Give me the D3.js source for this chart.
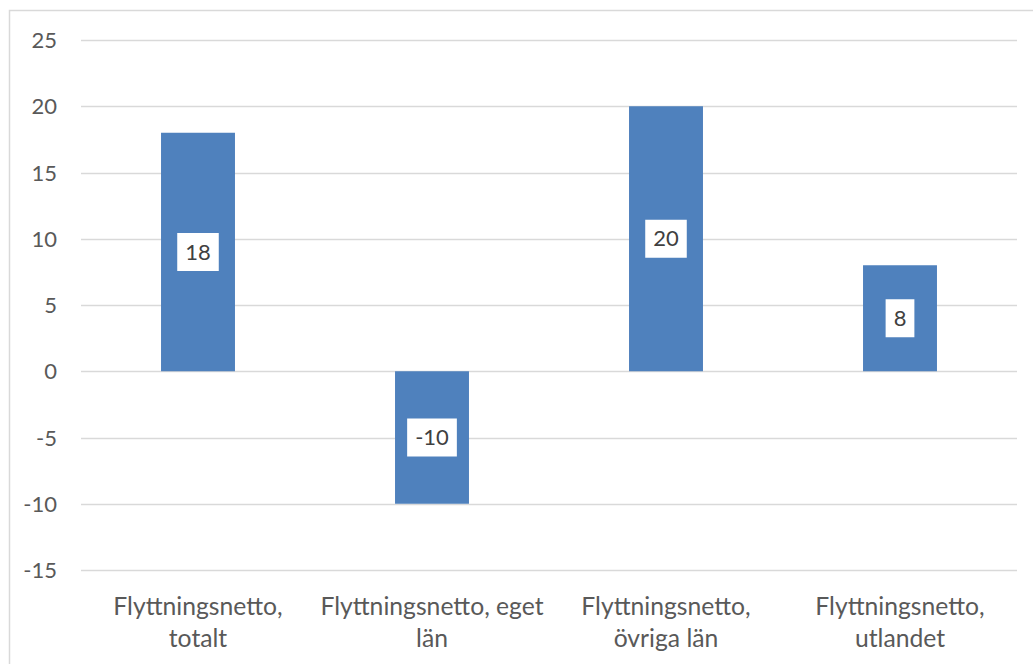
<!DOCTYPE html>
<html><head><meta charset="utf-8">
<script src="https://cdn.jsdelivr.net/npm/d3@7"></script>
<style>body{margin:0;background:#fff}svg{display:block}text{font-family:Lato,"Open Sans",sans-serif}</style>
</head><body>
<svg id="c" width="1033" height="664"></svg>
<script>
const categories = [["Flyttningsnetto,","totalt"],["Flyttningsnetto, eget","län"],["Flyttningsnetto,","övriga län"],["Flyttningsnetto,","utlandet"]];
const values = [18, -10, 20, 8];
const yTicks = [-15, -10, -5, 0, 5, 10, 15, 20, 25];

const FS_CAT = 24.7, FS_NUM = 22;
const svg = d3.select("#c");
svg.append("rect").attr("x",9.5).attr("y",10.5).attr("width",1100).attr("height",700)
  .attr("fill","#fff").attr("stroke","#d9d9d9").attr("stroke-width",1.5);

const x = d3.scaleBand().domain(d3.range(categories.length)).range([81,1017]).paddingInner(0.684).paddingOuter(0.342);
const y = d3.scaleLinear().domain([-15,25]).range([570,40]);

const yAxis = d3.axisLeft(y).tickValues(yTicks).tickSize(0).tickPadding(0).tickFormat(d=>String(d));
const gy = svg.append("g").attr("transform","translate(57,0)").call(yAxis);
gy.select(".domain").remove();
gy.selectAll("text").attr("font-size",FS_NUM).attr("fill","#595959").attr("dy","0.35em").style("font-family","Lato");

svg.append("g").selectAll("line").data(yTicks).join("line")
  .attr("x1",81).attr("x2",1017).attr("y1",d=>Math.round(y(d))+0.5).attr("y2",d=>Math.round(y(d))+0.5)
  .attr("stroke","#d9d9d9").attr("stroke-width",1.5);

svg.append("g").selectAll("rect").data(values).join("rect")
  .attr("x",(d,i)=>x(i)).attr("width",x.bandwidth())
  .attr("y",d=>y(Math.max(0,d))).attr("height",d=>Math.abs(y(d)-y(0)))
  .attr("fill","#4f81bd");

const lg = svg.append("g").selectAll("g").data(values).join("g")
  .attr("transform",(d,i)=>`translate(${x(i)+x.bandwidth()/2},${y(d/2)})`);
lg.each(function(d){
  const g = d3.select(this);
  const t = g.append("text").text(d).attr("text-anchor","middle").attr("dy","0.35em")
    .attr("font-size",FS_NUM).attr("fill","#404040");
  const w = t.node().getComputedTextLength();
  g.insert("rect","text").attr("x",-w/2-8).attr("width",w+16).attr("y",-19).attr("height",38).attr("fill","#fff");
});

const cl = svg.append("g").selectAll("text").data(categories).join("text")
  .attr("text-anchor","middle").attr("font-size",FS_CAT).attr("fill","#595959")
  .attr("transform",(d,i)=>`translate(${x(i)+x.bandwidth()/2},0)`);
cl.selectAll("tspan").data(d=>d).join("tspan").attr("x",0).attr("y",(d,j)=>615+j*32).text(d=>d);
</script>
</body></html>
